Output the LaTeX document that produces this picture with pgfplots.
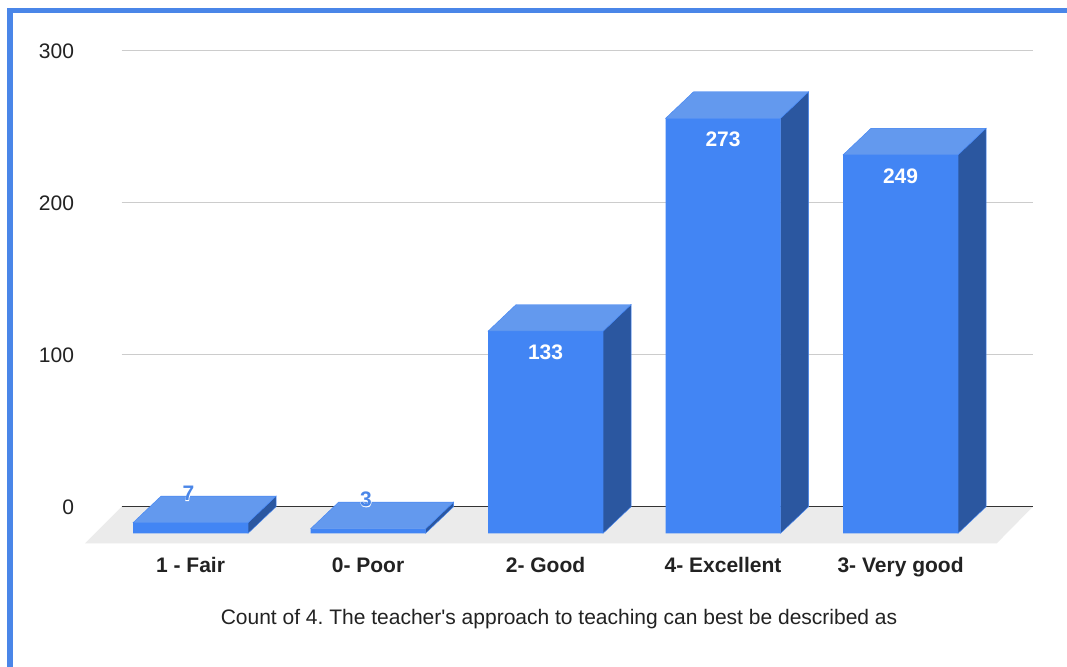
\documentclass[border=0pt]{standalone}
\usepackage{pgfplots}
\pgfplotsset{compat=1.18}
\usepackage{pgfplotstable}
\usepackage{fontspec}
\setmainfont{Liberation Sans}[Ligatures=TeXOff]
\newfontface\halofont{Liberation Sans Bold}[FakeBold=4]
\frenchspacing
\definecolor{barfront}{HTML}{4285F4}
\definecolor{bartop}{HTML}{6399EE}
\definecolor{barside}{HTML}{2B57A0}
\definecolor{floorgray}{HTML}{EBEBEB}
\definecolor{gridgray}{HTML}{CCCCCC}
\definecolor{frameblue}{HTML}{4A86E8}
\definecolor{lblblue}{HTML}{4A86E8}
\definecolor{ticktext}{HTML}{222222}

\pgfplotstableread{
x v
0 7
1 3
2 133
3 273
4 249
}\data

\begin{document}
\begin{tikzpicture}
\path[use as bounding box] (0pt,0pt) rectangle (1067pt,-666pt);
\fill[white] (0pt,0pt) rectangle (1067pt,-666pt);
\draw[frameblue, line width=5.5pt] (10pt,-670pt) -- (10pt,-10.5pt) -- (1070pt,-10.5pt);
\begin{axis}[
  anchor=south west, at={(121.7pt,-543.3pt)},
  x=177.5pt, y=1.52pt,
  xmin=-0.388, xmax=4.745,
  ymin=-6.58, ymax=317.5,
  clip=false,
  axis line style={draw=none},
  major tick length=0pt,
  /pgf/number format/assume math mode=true,
  ymajorgrids,
  grid style={gridgray, line width=1.2pt},
  ytick={17.5,117.5,217.5,317.5},
  yticklabels={0,100,200,300},
  yticklabel style={anchor=base east, inner sep=0pt, xshift=-47.5pt, yshift=-7.5pt,
    font=\fontsize{21}{25}\selectfont, text=ticktext},
  xtick={0,1,2,3,4},
  xticklabels={1 - Fair, 0- Poor, 2- Good, 4- Excellent, 3- Very good},
  xticklabel style={anchor=base, inner sep=0pt, yshift=-29pt,
    font=\bfseries\fontsize{21}{25}\selectfont, text=ticktext},
]
% floor
\addplot[fill=floorgray, draw=none] coordinates {(-0.388,17.5) (4.745,17.5) (4.542,-6.58) (-0.594,-6.58)} -- cycle;
% zero line
\addplot[black!80, line width=1.3pt] coordinates {(-0.388,17.5) (4.745,17.5)};
% front faces
\addplot[ybar, bar width=0.648, bar shift=0pt, fill=barfront, draw=none] table[x=x, y=v] {\data};
% top and side faces, with value labels
\addplot[scatter, only marks, mark=*, mark size=0pt, mark options={barfront},
  visualization depends on={\thisrow{v} \as \vv},
  scatter/@pre marker code/.code={%
    \scope
    \pgfkeys{/pgf/fpu=true, /pgf/fpu/output format=fixed}%
    \pgfmathsetmacro\vf{\vv}%
    \pgfkeys{/pgf/fpu=false}%
    \pgfmathsetmacro\hh{-1.52*\vf}%
    \pgfmathsetmacro\hb{26.6-1.52*\vf}%
    \pgfmathtruncatemacro\vi{\vf}%
    \fill[fill=barside] (57.5pt,0pt) -- (85.5pt,26.6pt) -- (85.5pt,\hb pt) -- (57.5pt,\hh pt) -- cycle;
    \fill[fill=bartop] (-57.5pt,0pt) -- (57.5pt,0pt) -- (85.5pt,26.6pt) -- (-29.5pt,26.6pt) -- cycle;
    \ifnum\vi<20
      \node[anchor=base, inner sep=0pt, text=white, font=\halofont\fontsize{21}{25}\selectfont] at (-2pt,22pt) {\vi};
      \node[anchor=base, inner sep=0pt, text=lblblue, font=\bfseries\fontsize{21}{25}\selectfont] at (-2pt,22pt) {\vi};
    \else
      \node[anchor=base, inner sep=0pt, text=white, font=\bfseries\fontsize{21}{25}\selectfont] at (0pt,-28.5pt) {\vi};
    \fi
  },
  scatter/@post marker code/.code={\endscope},
] table[x=x, y=v] {\data};
\end{axis}
\node[anchor=base, inner sep=0pt, text=ticktext, font=\fontsize{21}{25}\selectfont]
  at (559pt,-624.5pt) {Count of 4. The teacher's approach to teaching can best be described as};
\end{tikzpicture}
\end{document}
